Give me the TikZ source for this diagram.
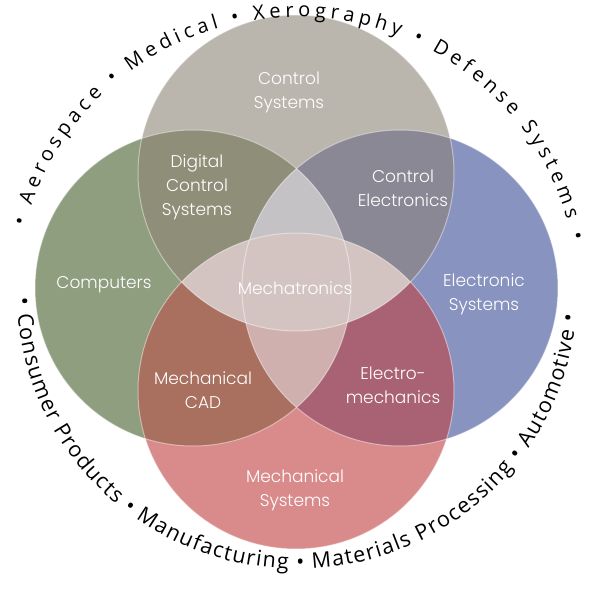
\documentclass[tikz,border=0pt]{standalone}
\usepackage{fontspec}
\setmainfont{Open Sans}
\newfontfamily\vennfont{Poppins Light}
\usepackage{tikz}
\usetikzlibrary{decorations.text}
\definecolor{ctop}{HTML}{BAB6AD}
\definecolor{cleft}{HTML}{8E9E7F}
\definecolor{cright}{HTML}{8893BF}
\definecolor{cbot}{HTML}{D98B8C}
\definecolor{ctl}{HTML}{8E8E79}
\definecolor{ctr}{HTML}{8B8895}
\definecolor{clb}{HTML}{A96F5F}
\definecolor{crb}{HTML}{A96274}
\definecolor{ctb}{HTML}{D3C4C1}
\definecolor{ctlr}{HTML}{C4C2C4}
\definecolor{cblr}{HTML}{CFB0AF}
\tikzset{
  lbl/.style={text=white, align=center, inner sep=0pt, font=\vennfont\fontsize{17}{24}\selectfont},
  rim/.style={draw=white, draw opacity=0.45, line width=1pt},
  ringtext/.style={decorate, decoration={text along path, text align={fit to path}, text={#1}}},
}
\begin{document}
\begin{tikzpicture}[x=1pt,y=1pt]
\useasboundingbox (0,0) rectangle (595,595);
\def\rr{158}
% circle centres
\coordinate (ct) at (296,422);
\coordinate (cl) at (193,307);
\coordinate (cr) at (400,307);
\coordinate (cb) at (296,204);
% single fields
\foreach \c/\col in {ct/ctop, cl/cleft, cr/cright, cb/cbot}
  \fill[\col] (\c) circle (\rr);
% pairwise overlaps
\foreach \a/\b/\col in {ct/cl/ctl, ct/cr/ctr, cl/cb/clb, cr/cb/crb}{
  \begin{scope}
    \clip (\a) circle (\rr);
    \fill[\col] (\b) circle (\rr);
  \end{scope}
}
% left and right lens
\foreach \c/\col in {ct/ctlr, cb/cblr}{
  \begin{scope}
    \clip (cl) circle (\rr);
    \clip (cr) circle (\rr);
    \fill[\col] (\c) circle (\rr);
  \end{scope}
}
% top and bottom lens
\begin{scope}
  \clip (ct) circle (\rr);
  \fill[ctb] (cb) circle (\rr);
\end{scope}
\foreach \c in {ct, cl, cr, cb}
  \draw[rim] (\c) circle (\rr);
% labels
\node[lbl] (csys) at (289,503) {Control\\Systems};
\node[lbl] (dcs) at (197,408) {Digital\\Control\\Systems};
\node[lbl] (cel) at (403,407) {Control\\Electronics};
\node[lbl] (comp) at (104,310) {Computers};
\node[lbl] (mech) at (295,307) {Mechatronics};
\node[lbl] (esys) at (484,301) {Electronic\\Systems};
\node[lbl] (mcad) at (203,205) {Mechanical\\CAD};
\node[lbl] (emech) at (393,210) {Electro-\\mechanics};
\node[lbl] (msys) at (295,105) {Mechanical\\Systems};
% application ring
\path[ringtext={|\fontsize{20}{23}\selectfont|• Aerospace • Medical • Xerography • Defense Systems •}]
  (25.3,368.8) arc[start angle=166, end angle=11, x radius=280, y radius=276];
\path[ringtext={|\fontsize{21.5}{25}\selectfont|• Consumer Products • Manufacturing • Materials Processing • Automotive •}]
  (17.0,297.2) arc[start angle=181, end angle=355.5, x radius=280, y radius=276];
\end{tikzpicture}
\end{document}
